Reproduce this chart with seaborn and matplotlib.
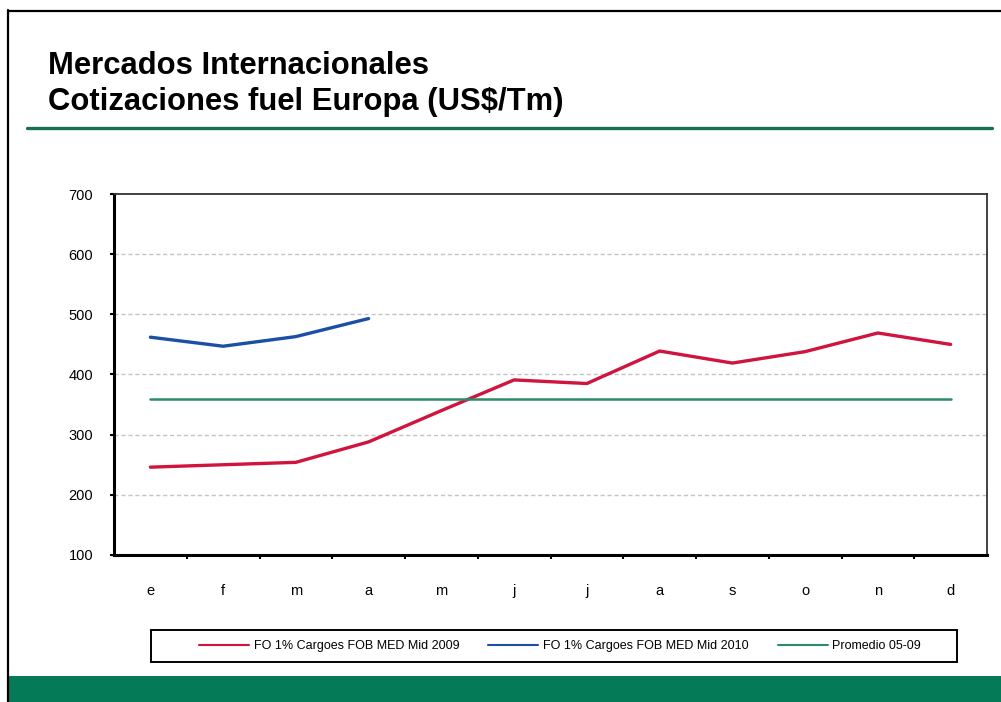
import pandas as pd
import seaborn as sns
import matplotlib.pyplot as plt
from matplotlib.patches import Rectangle
from matplotlib.lines import Line2D

sns.set_style("white")
plt.rcParams['font.family'] = ['Liberation Sans', 'DejaVu Sans']
plt.rcParams['text.color'] = 'black'
plt.rcParams['xtick.color'] = 'black'
plt.rcParams['ytick.color'] = 'black'

# data (US$/Tm)
months = ['e', 'f', 'm', 'a', 'm', 'j', 'j', 'a', 's', 'o', 'n', 'd']
fo_2009 = [246, 250, 254, 288, 340, 391, 385, 439, 419, 438, 469, 450]
fo_2010 = [462, 447, 463, 493, None, None, None, None, None, None, None, None]
promedio = [359, 359, 359, 359, 359, 359, 359, 359, 359, 359, 359, 359]
yticks = [100, 200, 300, 400, 500, 600, 700]

df = pd.DataFrame({'pos': range(len(months)), 'mes': months,
                   '2009': fo_2009, '2010': fo_2010, 'prom': promedio})

red = '#D0143E'
blue = '#1B4FA6'
green = '#2A8C69'

fig = plt.figure(figsize=(10.01, 7.02), dpi=100)
fig.patch.set_facecolor('white')

# slide decoration
fig.add_artist(Line2D([8 / 1001, 8 / 1001], [0, 1 - 10 / 702], color='black', lw=1.6))
fig.add_artist(Line2D([8 / 1001, 1], [1 - 11 / 702, 1 - 11 / 702], color='black', lw=1.6))
fig.add_artist(Line2D([27 / 1001, 992 / 1001], [1 - 128 / 702, 1 - 128 / 702], color='#17704F', lw=2.4))
fig.add_artist(Rectangle((9 / 1001, 0), 1, 26 / 702, color='#047A57', lw=0))
fig.text(48 / 1001, 1 - 74 / 702, 'Mercados Internacionales', fontsize=22.3, fontweight='bold')
fig.text(48 / 1001, 1 - 110 / 702, 'Cotizaciones fuel Europa (US$/Tm)', fontsize=22.3, fontweight='bold')

ax = fig.add_axes([114 / 1001, 147 / 702, 873 / 1001, 361 / 702])

sns.lineplot(data=df, x='pos', y='2009', color=red, lw=2.4, ax=ax, label='FO 1% Cargoes FOB MED Mid 2009')
sns.lineplot(data=df.dropna(), x='pos', y='2010', color=blue, lw=2.4, ax=ax, label='FO 1% Cargoes FOB MED Mid 2010')
sns.lineplot(data=df, x='pos', y='prom', color=green, lw=1.8, ax=ax, label='Promedio 05-09')

ax.set_xlim(-0.5, len(months) - 0.5)
ax.set_ylim(100, 700)
ax.set_yticks(yticks)
ax.set_xlabel('')
ax.set_ylabel('')

# category labels at centres, tick marks at the boundaries
ax.set_xticks([i + 0.5 for i in range(len(months) - 1)])
ax.set_xticklabels([])
ax.set_xticks(range(len(months)), minor=True)
ax.set_xticklabels(months, minor=True)
ax.tick_params(axis='x', which='major', direction='out', length=3, width=1.5, color='black', bottom=True)
ax.tick_params(axis='x', which='minor', length=0, pad=21, labelsize=10.5)
ax.tick_params(axis='y', direction='out', length=3, width=1.5, color='black', left=True, pad=12, labelsize=10.5)

for y in yticks[1:-1]:
    ax.axhline(y, color='#C4C4C4', lw=1, ls=(0, (3, 2)), zorder=0)

for side in ['left', 'bottom']:
    ax.spines[side].set_color('black')
    ax.spines[side].set_linewidth(2.2)
for side in ['top', 'right']:
    ax.spines[side].set_color('#333333')
    ax.spines[side].set_linewidth(1.3)

handles, labels = ax.get_legend_handles_labels()
ax.get_legend().remove()
leg = fig.legend(handles, labels, loc='center', bbox_to_anchor=(560 / 1001, 1 - 646 / 702), ncol=3,
                 frameon=False, fontsize=9, handlelength=4, handletextpad=0.4, columnspacing=2.3)
for line in leg.get_lines():
    line.set_linewidth(1.5)
fig.add_artist(Rectangle((151 / 1001, 1 - 662 / 702), 806 / 1001, 32 / 702, fill=False,
                         edgecolor='black', lw=1.4))

plt.savefig('out.png', dpi=100)
